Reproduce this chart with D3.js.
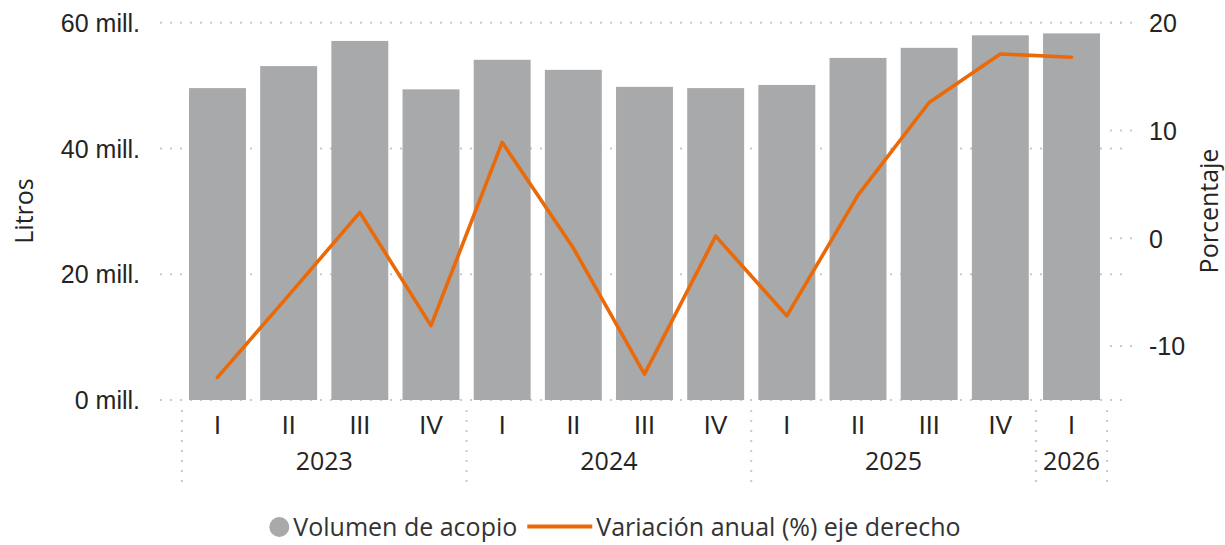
<!DOCTYPE html>
<html>
<head>
<meta charset="utf-8">
<script src="https://cdn.jsdelivr.net/npm/d3@7"></script>
<style>
  html, body { margin: 0; padding: 0; background: #fff; }
  svg { display: block; font-family: "Segoe UI", "Open Sans", sans-serif; }
</style>
</head>
<body>
<svg id="chart" width="1225" height="545"></svg>
<script>
// ---- Data ----
const quarters = ["I","II","III","IV","I","II","III","IV","I","II","III","IV","I"];
const periodYears = ["2023","2023","2023","2023","2024","2024","2024","2024","2025","2025","2025","2025","2026"];
const years = ["2023","2024","2025","2026"];
const volumen = [49.6, 53.1, 57.1, 49.4, 54.1, 52.5, 49.8, 49.6, 50.1, 54.4, 56.0, 58.0, 58.3]; // millones de litros
const variacion = [-12.9, -5.3, 2.4, -8.1, 8.9, -0.9, -12.6, 0.2, -7.2, 4.0, 12.6, 17.1, 16.8]; // %
const leftTicks = [0, 20, 40, 60];
const rightTicks = [-10, 0, 10, 20];
const seriesNames = ["Volumen de acopio", "Variación anual (%) eje derecho"];
const axisTitles = ["Litros", "Porcentaje"];

// ---- Layout ----
const svg = d3.select("#chart");
const plotLeft = 181.9, plotRight = 1107.1, plotTop = 22.7, plotBottom = 400;
const barColor = "#a8a9ab", lineColor = "#ea6a0a", textColor = "#252423", gridColor = "#c9c9c9";
const fontSize = 25;

const idx = d3.range(quarters.length);
const x = d3.scaleBand().domain(idx).range([plotLeft, plotRight]).paddingInner(0.2).paddingOuter(0.1);
const yL = d3.scaleLinear().domain([0, 60]).range([plotBottom, plotTop]);
const yR = d3.scaleLinear().domain([-15, 20]).range([plotBottom, plotTop]);

// Gridlines (left axis)
svg.append("g").selectAll("line").data(leftTicks).join("line")
  .attr("x1", 160).attr("x2", 1125)
  .attr("y1", d => yL(d)).attr("y2", d => yL(d))
  .attr("stroke", gridColor).attr("stroke-width", 2).attr("stroke-dasharray", "2,8");

// Right-axis short tick marks
svg.append("g").selectAll("line").data(rightTicks).join("line")
  .attr("x1", 1110).attr("x2", 1132)
  .attr("y1", d => yR(d)).attr("y2", d => yR(d))
  .attr("stroke", gridColor).attr("stroke-width", 2).attr("stroke-dasharray", "2,8");

// Bars
svg.append("g").selectAll("rect").data(idx).join("rect")
  .attr("x", i => x(i)).attr("width", x.bandwidth())
  .attr("y", i => yL(volumen[i])).attr("height", i => yL(0) - yL(volumen[i]))
  .attr("fill", barColor);

// Line
const line = d3.line().x(i => x(i) + x.bandwidth() / 2).y(i => yR(variacion[i]));
svg.append("path").datum(idx).attr("d", line)
  .attr("fill", "none").attr("stroke", lineColor).attr("stroke-width", 3.6)
  .attr("stroke-linejoin", "round").attr("stroke-linecap", "round");

// Left axis
const axL = d3.axisLeft(yL).tickValues(leftTicks).tickSize(0).tickPadding(0)
  .tickFormat(d => d + " mill.");
const gL = svg.append("g").attr("transform", "translate(140,0)").call(axL);
gL.select(".domain").remove();
gL.selectAll("text").attr("fill", textColor).attr("font-size", fontSize)
  .attr("font-family", null).attr("dy", "0.35em").attr("x", 0);

// Right axis
const axR = d3.axisRight(yR).tickValues(rightTicks).tickSize(0).tickPadding(0)
  .tickFormat(d => String(d));
const gR = svg.append("g").attr("transform", "translate(1149,0)").call(axR);
gR.select(".domain").remove();
gR.selectAll("text").attr("fill", textColor).attr("font-size", fontSize)
  .attr("font-family", null).attr("dy", "0.35em").attr("x", 0);

// X axis: quarters
const axX = d3.axisBottom(x).tickSize(0).tickPadding(0).tickFormat(i => quarters[i]);
const gX = svg.append("g").attr("transform", `translate(0,${plotBottom})`).call(axX);
gX.select(".domain").remove();
gX.selectAll("text").attr("fill", textColor).attr("font-size", fontSize)
  .attr("font-family", null).attr("y", 25).attr("dy", "0.35em");

// Year group separators
const groupBounds = [];
years.forEach(yr => {
  const members = idx.filter(i => periodYears[i] === yr);
  const start = x(members[0]) - x.step() * x.paddingInner() / 2;
  const end = x(members[members.length - 1]) + x.bandwidth() + x.step() * x.paddingInner() / 2;
  groupBounds.push({ yr, start: Math.max(start, plotLeft), end: Math.min(end, plotRight) });
});
const sepXs = [plotLeft].concat(groupBounds.map(g => g.end));
svg.append("g").selectAll("line").data(sepXs).join("line")
  .attr("x1", d => d).attr("x2", d => d).attr("y1", 410).attr("y2", 483)
  .attr("stroke", gridColor).attr("stroke-width", 2).attr("stroke-dasharray", "2,8");

svg.append("g").selectAll("text").data(groupBounds).join("text")
  .attr("x", g => (g.start + g.end) / 2).attr("y", 461).attr("dy", "0.35em")
  .attr("text-anchor", "middle").attr("fill", textColor).attr("font-size", fontSize)
  .text(g => g.yr);

// Axis titles
svg.append("text").attr("transform", "translate(33,211) rotate(-90)")
  .attr("text-anchor", "middle").attr("fill", textColor).attr("font-size", fontSize)
  .text(axisTitles[0]);
svg.append("text").attr("transform", "translate(1218,211) rotate(-90)")
  .attr("text-anchor", "middle").attr("fill", textColor).attr("font-size", fontSize)
  .text(axisTitles[1]);

// Legend
const lg = svg.append("g");
const ly = 527;
lg.append("circle").attr("cx", 279.3).attr("cy", ly).attr("r", 10).attr("fill", barColor);
const t1 = lg.append("text").attr("x", 293.3).attr("y", ly).attr("dy", "0.35em")
  .attr("fill", "#333").attr("font-size", fontSize).text(seriesNames[0]);
const w1 = t1.node().getComputedTextLength();
const lx0 = 293.3 + w1 + 10;
lg.append("line").attr("x1", lx0).attr("x2", lx0 + 65).attr("y1", ly - 0.5).attr("y2", ly - 0.5)
  .attr("stroke", lineColor).attr("stroke-width", 4);
lg.append("text").attr("x", lx0 + 69).attr("y", ly).attr("dy", "0.35em")
  .attr("fill", "#333").attr("font-size", fontSize).text(seriesNames[1]);
</script>
</body>
</html>
